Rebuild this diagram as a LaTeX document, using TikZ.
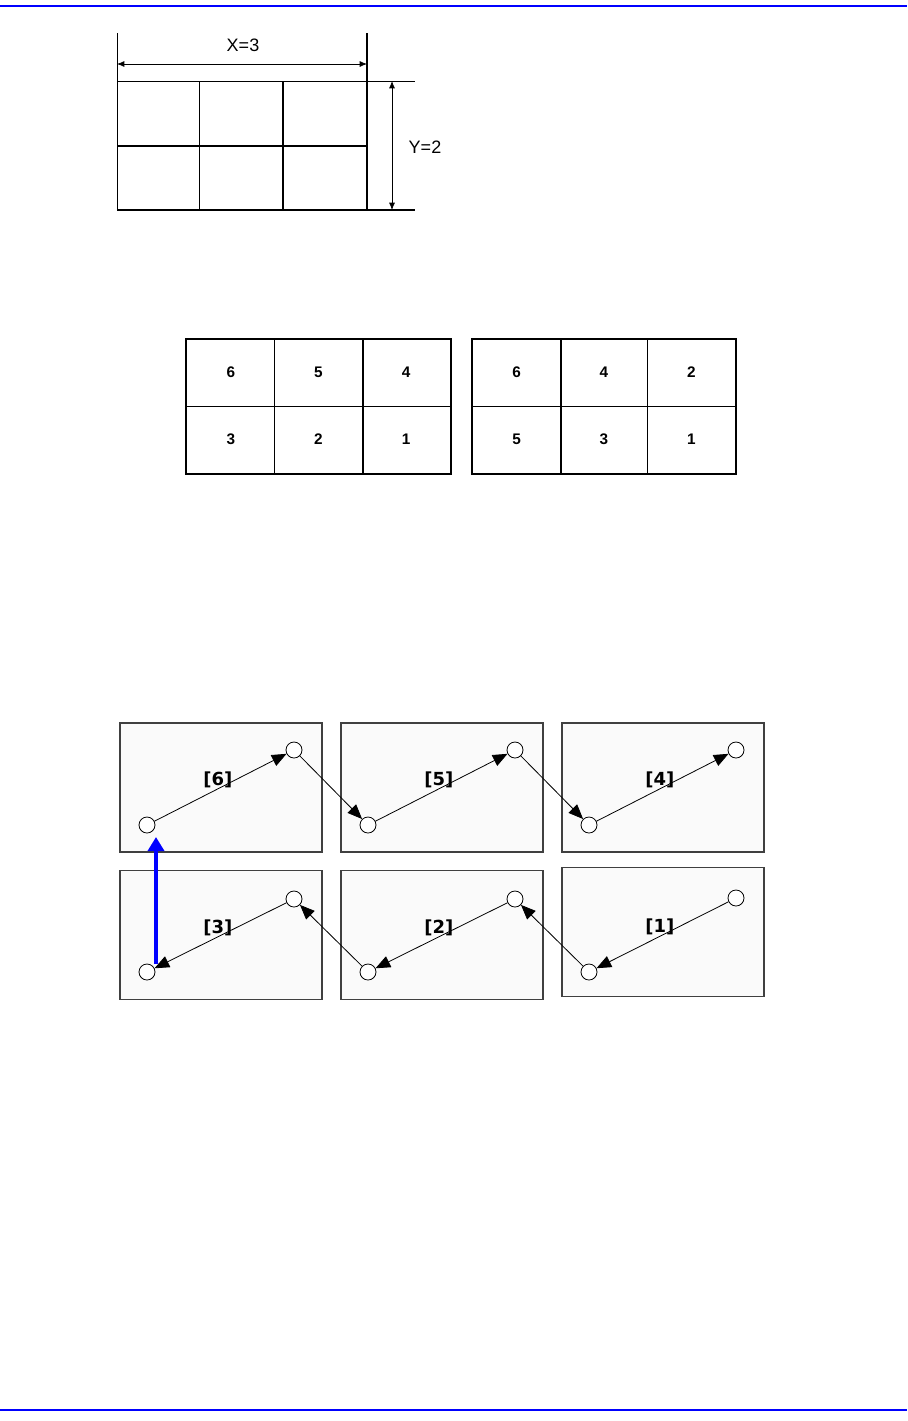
\documentclass[tikz,border=0pt]{standalone}
\usepackage{fontspec}
\setmainfont{Liberation Sans}
\newfontfamily\tagfont{DejaVu Sans}
\usetikzlibrary{arrows.meta,positioning}

\begin{document}
\begin{tikzpicture}[x=0.75pt,y=-0.75pt,
  fine/.style={line width=0.75pt},
  heavy/.style={line width=1.5pt},
  dim/.style={{Latex[length=5.5pt,width=4.5pt]}-{Latex[length=5.5pt,width=4.5pt]},line width=0.6pt},
  dimtext/.style={inner sep=0pt,font=\fontsize{13.5}{16}\selectfont},
  cell/.style={draw,line width=0.75pt,minimum width=65.8pt,minimum height=50.25pt,inner sep=0pt,font=\fontsize{11.5}{13}\selectfont\bfseries},
  tile/.style={draw=black!75,fill=black!2,line width=1pt,minimum width=151.5pt,minimum height=96.75pt,inner sep=0pt},
  spot/.style={circle,draw,fill=white,line width=0.6pt,minimum size=12pt,inner sep=0pt},
  arr/.style={-{Triangle[length=11pt,width=9pt]},line width=0.6pt},
  tag/.style={font=\tagfont\bfseries\fontsize{13.5}{15}\selectfont,inner sep=0.5pt},
  uparr/.style={-{Triangle[length=10.5pt,width=12pt]},line width=3pt,blue}]
\useasboundingbox (0,0) rectangle (907,1421);

% page rules
\draw[blue,line width=1.5pt] (0,5.5) -- (907,5.5);
\draw[blue,line width=1.5pt] (0,1410) -- (907,1410);

% screen grid X by Y
\draw[fine] (117,81) -- (367,81);
\draw[heavy] (117,145.5) -- (367,145.5);
\draw[heavy] (117,210) -- (415,210);
\draw[fine] (117,33) -- (117,210);
\draw[fine] (199.5,81) -- (199.5,210);
\draw[heavy] (283,81) -- (283,210);
\draw[heavy] (367,33) -- (367,210);
\draw[fine] (367,81) -- (415,81);
\coordinate (xl) at (117,64);
\coordinate (xr) at (367,64);
\coordinate (yt) at (392,81);
\coordinate (yb) at (392,210);
\draw[dim] (xl) -- (xr);
\draw[dim] (yt) -- (yb);
\node[dimtext] (xlab) at (243,45) {X=3};
\node[dimtext] (ylab) at (425,147) {Y=2};

% numbering orders
\node[cell] (l11) at (230.8,372.5) {6};
\node[cell] (l12) at (318.5,372.5) {5};
\node[cell] (l13) at (406.2,372.5) {4};
\node[cell] (l21) at (230.8,439.5) {3};
\node[cell] (l22) at (318.5,439.5) {2};
\node[cell] (l23) at (406.2,439.5) {1};
\draw[heavy] (l11.north west) rectangle (l23.south east);
\draw[heavy] (l12.north east) -- (l22.south east);
\node[cell] (r11) at (516.7,372.5) {6};
\node[cell] (r12) at (604,372.5) {4};
\node[cell] (r13) at (691.3,372.5) {2};
\node[cell] (r21) at (516.7,439.5) {5};
\node[cell] (r22) at (604,439.5) {3};
\node[cell] (r23) at (691.3,439.5) {1};
\draw[heavy] (r11.north west) rectangle (r23.south east);
\draw[heavy] (r11.north east) -- (r21.south east);

% snake order over the tiles
\node[tile] (t1) at (221,787.5) {};
\node[tile] (t2) at (442,787.5) {};
\node[tile] (t3) at (663,787.5) {};
\node[tile] (b1) at (221,935) {};
\node[tile] (b2) at (442,935) {};
\node[tile] (b3) at (663,932) {};

\node[spot] (t1a) at (147,825) {};
\node[spot] (t1b) at (294,750) {};
\node[spot] (t2a) at (368,825) {};
\node[spot] (t2b) at (515,750) {};
\node[spot] (t3a) at (589,825) {};
\node[spot] (t3b) at (736,750) {};
\node[spot] (b1a) at (147,972) {};
\node[spot] (b1b) at (294,899) {};
\node[spot] (b2a) at (368,972) {};
\node[spot] (b2b) at (515,899) {};
\node[spot] (b3a) at (589,972) {};
\node[spot] (b3b) at (736,898) {};

\draw[arr] (b3b) -- node[tag,above,pos=0.52]{[1]} (b3a);
\draw[arr] (b3a) -- (b2b);
\draw[arr] (b2b) -- node[tag,above,pos=0.52]{[2]} (b2a);
\draw[arr] (b2a) -- (b1b);
\draw[arr] (b1b) -- node[tag,above,pos=0.52]{[3]} (b1a);
\draw[arr] (t1a) -- node[tag,above,pos=0.48]{[6]} (t1b);
\draw[arr] (t1b) -- (t2a);
\draw[arr] (t2a) -- node[tag,above,pos=0.48]{[5]} (t2b);
\draw[arr] (t2b) -- (t3a);
\draw[arr] (t3a) -- node[tag,above,pos=0.48]{[4]} (t3b);
\draw[uparr] ([xshift=6.75pt,yshift=6pt]b1a.center) -- ([xshift=6.75pt,yshift=-9pt]t1a.center);
\end{tikzpicture}
\end{document}
